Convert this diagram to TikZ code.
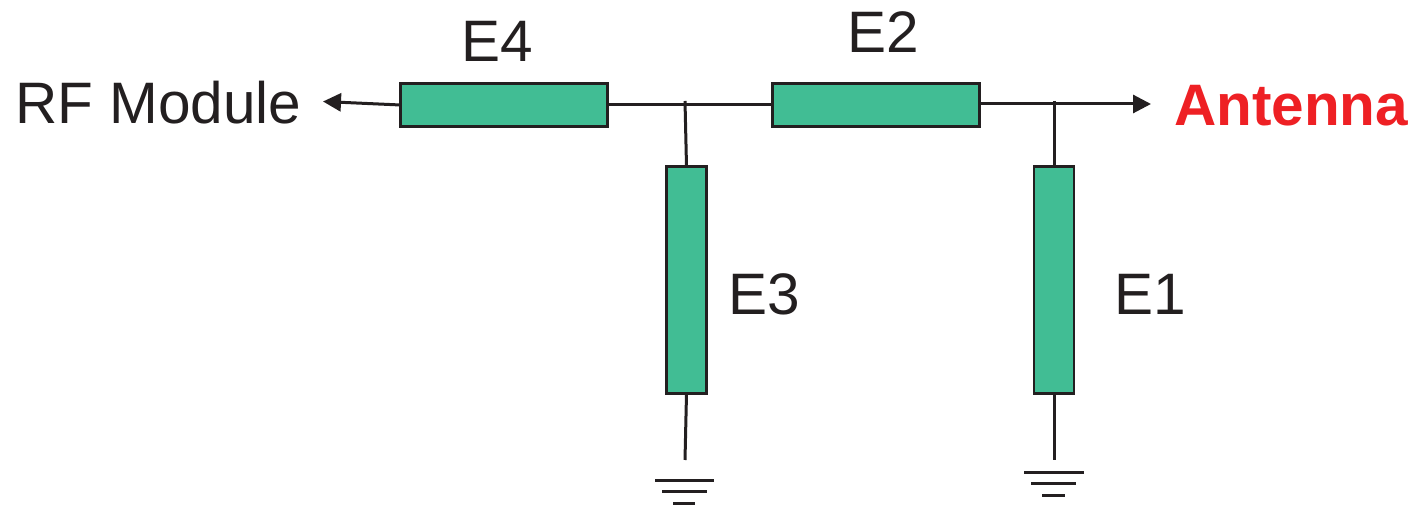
\documentclass[tikz,border=0pt]{standalone}
\usepackage{fontspec}
\setmainfont{Liberation Sans}
\usetikzlibrary{arrows.meta}
\definecolor{ink}{HTML}{231F20}
\definecolor{boxgreen}{HTML}{41BD94}
\definecolor{antred}{HTML}{EE2024}
\tikzset{
  x=1pt,y=1pt,
  hbox/.style={draw=ink,fill=boxgreen,line width=2.6pt,minimum width=207pt,minimum height=43pt,inner sep=0pt,outer sep=0pt},
  vbox/.style={draw=ink,fill=boxgreen,line width=2.6pt,minimum width=40pt,minimum height=227pt,inner sep=0pt,outer sep=0pt},
  linkline/.style={draw=ink,line width=3pt},
  arrowline/.style={linkline,-{Triangle[length=18pt,width=18pt]}},
  lbl/.style={text=ink,font=\fontsize{58.5}{58.5}\selectfont,inner sep=0pt,anchor=base},
}
\begin{document}
\begin{tikzpicture}
\useasboundingbox (0,0) rectangle (1415,508);
% y measured from the bottom: 508 - pixel row
\node[hbox] (E4) at (504,403) {};
\node[hbox] (E2) at (876,403) {};
\node[vbox] (E3) at (686.5,228) {};
\node[vbox] (E1) at (1054,228) {};
\coordinate (rf) at (323,406.5);
\coordinate (ant) at (1151,404);
\coordinate (e2o) at (980,404);
\coordinate (j3) at (685,407);
\coordinate (j1) at (1054,407);
\coordinate (g3) at (685,48);
\coordinate (g1) at (1054,48);
\draw[arrowline] (E4.west) -- (rf);
\draw[linkline] (E4.east) -- (E2.west);
\draw[arrowline] (e2o) -- (ant);
\draw[linkline] (j3) -- (E3.north);
\draw[linkline] (j1) -- (E1.north);
\draw[linkline] (E3.south) -- (g3);
\draw[linkline] (E1.south) -- (g1);
% grounds
\draw[linkline] (655,27) -- (714,27);
\draw[linkline] (662,16) -- (707,16);
\draw[linkline] (673,4) -- (695,4);
\draw[linkline] (1024,35) -- (1084,35);
\draw[linkline] (1031,24) -- (1076,24);
\draw[linkline] (1042,12) -- (1065,12);
% labels
\node[lbl,anchor=base west] (rfl) at (15,384) {RF Module};
\node[lbl,anchor=base west,text=antred,font=\fontsize{58.5}{58.5}\selectfont\bfseries] (antl) at (1174,382) {Antenna};
\node[lbl] (l4) at (497,446) {E4};
\node[lbl] (l2) at (883,455) {E2};
\node[lbl] (l3) at (764,193) {E3};
\node[lbl] (l1) at (1150,193) {E1};
\end{tikzpicture}
\end{document}
